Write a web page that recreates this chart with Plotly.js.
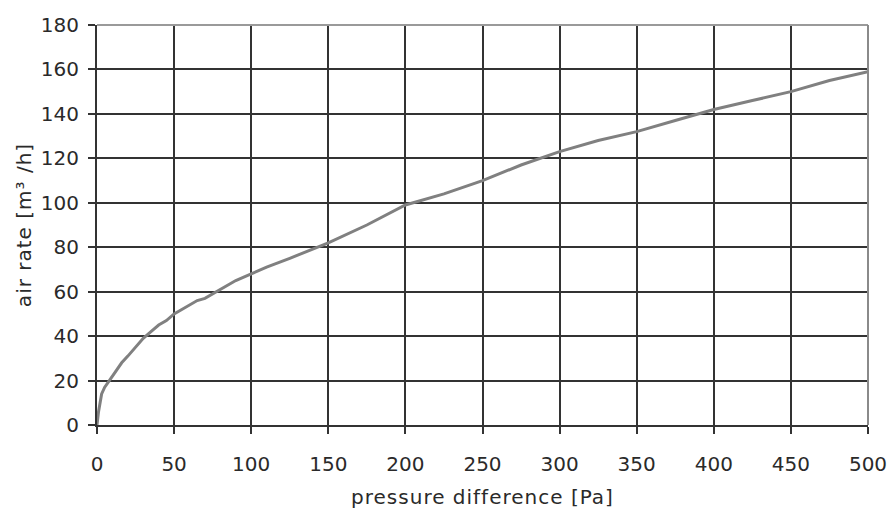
<!DOCTYPE html>
<html>
<head>
<meta charset="utf-8">
<script src="https://cdn.plot.ly/plotly-3.0.1.min.js"></script>
<style>
html,body{margin:0;padding:0;background:#fff}
#chart{width:892px;height:509px}
#chart .xtitle, #chart .ytitle{letter-spacing:1px}
</style>
</head>
<body>
<div id="chart"></div>
<script>
const pressure = [0, 1, 3, 5, 8, 12, 16, 20, 25, 30, 35, 40, 45, 50, 55, 60, 65, 70, 75, 80, 90, 100, 110, 125, 150, 175, 200, 225, 250, 275, 300, 325, 350, 375, 400, 425, 450, 475, 500];
const airRate = [0, 6, 14, 17, 20, 24, 28, 31, 35, 39, 42, 45, 47, 50, 52, 54, 56, 57, 59, 61, 65, 68, 71, 75, 82, 90, 99, 104, 110, 117, 123, 128, 132, 137, 142, 146, 150, 155, 159];
const xTicks = [0, 50, 100, 150, 200, 250, 300, 350, 400, 450, 500];
const yTicks = [0, 20, 40, 60, 80, 100, 120, 140, 160, 180];

const font = {family: 'DejaVu Sans, Verdana, sans-serif', size: 20, color: '#2a2a2a'};
const trace = {x: pressure, y: airRate, mode: 'lines', line: {color: '#808080', width: 3}, hoverinfo: 'skip'};
const layout = {
  width: 892, height: 509,
  margin: {l: 97, r: 24, t: 25, b: 84},
  paper_bgcolor: '#fff', plot_bgcolor: '#fff',
  showlegend: false,
  font: font,
  xaxis: {
    range: [0, 500], tickvals: xTicks, ticktext: xTicks.map(String),
    showgrid: true, gridcolor: '#333', gridwidth: 2,
    zeroline: false, showline: true, linecolor: '#333', linewidth: 2,
    ticks: 'outside', ticklen: 7, tickwidth: 2, tickcolor: '#333',
    ticklabelstandoff: 13,
    tickfont: font,
    title: {text: 'pressure difference [Pa]', font: font, standoff: 26}
  },
  yaxis: {
    range: [0, 180], tickvals: yTicks, ticktext: yTicks.map(String),
    showgrid: true, gridcolor: '#333', gridwidth: 2,
    zeroline: false, showline: true, linecolor: '#333', linewidth: 2,
    ticks: 'outside', ticklen: 7, tickwidth: 2, tickcolor: '#333',
    ticklabelstandoff: 5,
    tickfont: font,
    title: {text: 'air rate [m³ /h]', font: font, standoff: 4}
  },
  shapes: [
    {type: 'line', xref: 'paper', yref: 'paper', x0: 0, x1: 1, y0: 1, y1: 1, line: {color: '#9a9a9a', width: 2}},
    {type: 'line', xref: 'paper', yref: 'paper', x0: 1, x1: 1, y0: 0, y1: 1, line: {color: '#8a8a8a', width: 2}}
  ]
};
Plotly.newPlot('chart', [trace], layout, {staticPlot: true, displayModeBar: false});
</script>
</body>
</html>
